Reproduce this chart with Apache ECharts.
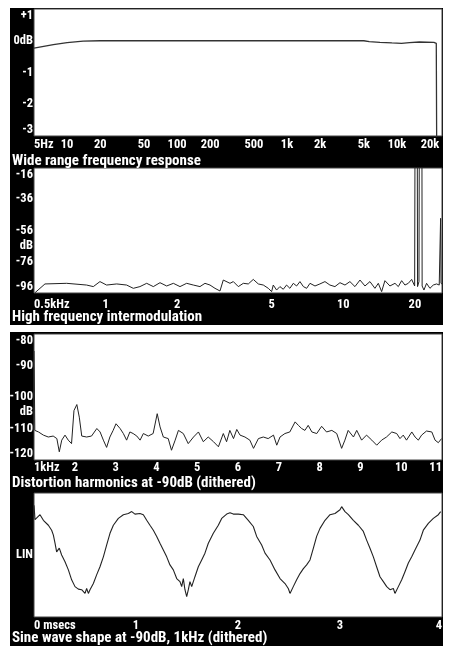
<!DOCTYPE html>
<html><head><meta charset="utf-8">
<script src="https://cdn.jsdelivr.net/npm/echarts@6/dist/echarts.min.js"></script>
<style>html,body{margin:0;padding:0;background:#fff}#c{width:452px;height:646px}</style>
</head><body><div id="c"></div>
<script>
const FONT = "'Roboto','Open Sans',sans-serif";
const WEIGHT = 'bold condensed';

// ---- Panel 1: Wide range frequency response (Hz, dB)
const p1Ticks = [5, 10, 20, 50, 100, 200, 500, 1000, 2000, 5000, 10000, 20000];
const p1TickLabels = ['5Hz', '10', '20', '50', '100', '200', '500', '1k', '2k', '5k', '10k', '20k'];
const p1Response = [[5,-0.23],[7.5,-0.12],[10,-0.06],[14,-0.01],[20,0],[100,0],[1000,0],[5000,0],[5600,-0.03],[7000,-0.05],[9000,-0.07],[11000,-0.08],[13000,-0.06],[16000,-0.04],[21700,-0.05],[22800,-0.08],[23000,-3.5]];

// ---- Panel 2: High frequency intermodulation (kHz, dB)
const p2Ticks = [0.5, 1, 2, 5, 10, 20];
const p2TickLabels = ['0.5kHz', '1', '2', '5', '10', '20'];
const p2YTicks = [-96, -76, -56, -36, -16];
const p2Spectrum = [[0.505,-95.8],[0.556,-90.2],[0.686,-89.8],[0.832,-90.9],[0.888,-91.9],[0.947,-88.7],[1.010,-90.9],[1.114,-90.2],[1.226,-90.9],[1.308,-93.0],[1.395,-91.9],[1.489,-89.8],[1.588,-91.9],[1.694,-89.4],[1.807,-91.5],[1.928,-89.8],[2.056,-91.9],[2.193,-89.8],[2.339,-90.9],[2.495,-91.9],[2.619,-89.8],[2.749,-90.9],[2.885,-93.0],[3.028,-94.7],[3.127,-87.7],[3.337,-89.8],[3.446,-88.7],[3.617,-91.9],[3.796,-89.8],[3.984,-90.2],[4.181,-87.3],[4.389,-90.2],[4.607,-90.9],[4.835,-93.0],[4.993,-95.1],[5.074,-90.9],[5.24,-94.1],[5.41,-91.9],[5.59,-93.6],[5.77,-90.9],[5.96,-93.0],[6.16,-89.8],[6.36,-91.5],[6.57,-88.7],[6.79,-91.9],[7.01,-93.0],[7.24,-89.8],[7.60,-91.5],[7.97,-90.2],[8.37,-88.7],[8.78,-90.9],[9.22,-91.9],[9.68,-89.4],[10.16,-90.9],[10.66,-88.7],[11.19,-91.9],[11.75,-87.7],[12.33,-91.5],[12.94,-88.7],[13.58,-93.0],[14.03,-89.8],[14.49,-95.1],[14.96,-88.1],[15.70,-91.5],[16.49,-89.8],[17.03,-91.9],[17.59,-88.1],[18.16,-90.9],[18.76,-89.8],[19.38,-87.3],[19.95,-91.5],[20.01,-10],[20.47,-10],[20.52,-91.9],[20.80,-88.7],[20.86,-10],[21.41,-10],[21.45,-91.5],[21.83,-94.1],[22.39,-89.8],[23.13,-93.0],[23.89,-90.9],[24.67,-90.2],[25.31,-90.9],[25.55,-90.5],[25.65,-48.2],[25.75,-89.8],[25.98,-90.2]];

// ---- Panel 3: Distortion harmonics at -90dB (kHz, dB)
const p3Spectrum = [[1.0,-85.4],[1.02,-110.6],[1.11,-111.1],[1.23,-112.1],[1.35,-112.7],[1.47,-112.4],[1.56,-113.2],[1.62,-117.4],[1.68,-113.7],[1.76,-112.1],[1.84,-113.7],[1.92,-114.8],[1.98,-104.3],[2.05,-102.4],[2.11,-106.4],[2.17,-112.4],[2.29,-112.7],[2.41,-112.4],[2.54,-110.0],[2.62,-111.1],[2.70,-113.7],[2.78,-116.0],[2.86,-112.7],[2.94,-110.6],[3.01,-108.5],[3.11,-110.0],[3.19,-111.6],[3.27,-113.7],[3.35,-111.1],[3.43,-111.6],[3.52,-112.4],[3.60,-113.7],[3.68,-111.6],[3.80,-112.4],[3.92,-111.6],[4.02,-105.3],[4.09,-109.5],[4.17,-112.7],[4.29,-113.2],[4.37,-116.9],[4.46,-113.7],[4.54,-110.6],[4.66,-111.6],[4.78,-114.8],[4.91,-112.7],[5.03,-111.1],[5.15,-114.2],[5.27,-112.7],[5.40,-114.2],[5.52,-115.8],[5.64,-111.6],[5.72,-114.2],[5.80,-110.6],[5.89,-113.2],[5.97,-110.3],[6.05,-112.1],[6.17,-112.7],[6.29,-113.7],[6.38,-116.3],[6.50,-113.2],[6.62,-112.7],[6.74,-113.2],[6.87,-112.1],[6.95,-115.3],[7.03,-112.7],[7.15,-111.6],[7.27,-111.1],[7.40,-107.9],[7.48,-109.0],[7.56,-110.0],[7.64,-110.6],[7.72,-109.0],[7.81,-111.1],[7.93,-111.6],[8.05,-109.3],[8.17,-111.1],[8.30,-110.6],[8.42,-111.6],[8.54,-116.3],[8.62,-113.7],[8.70,-110.6],[8.83,-112.7],[8.91,-110.6],[9.03,-113.7],[9.15,-112.1],[9.28,-113.7],[9.40,-115.3],[9.52,-113.7],[9.64,-112.7],[9.77,-111.1],[9.89,-111.6],[9.97,-113.2],[10.05,-112.1],[10.13,-113.7],[10.26,-111.1],[10.34,-112.7],[10.42,-113.7],[10.50,-112.1],[10.62,-110.8],[10.75,-111.1],[10.83,-113.7],[10.91,-114.5],[10.99,-113.2]];

// ---- Panel 4: Sine wave shape (msecs, linear amplitude)
const p4Wave = [[0,0.80],[0.01,0.57],[0.026,0.59],[0.059,0.65],[0.092,0.56],[0.141,0.48],[0.173,0.40],[0.190,0.32],[0.206,0.19],[0.222,0.05],[0.248,0.11],[0.271,0.00],[0.304,-0.11],[0.337,-0.24],[0.369,-0.40],[0.402,-0.51],[0.435,-0.55],[0.467,-0.56],[0.484,-0.54],[0.500,-0.62],[0.516,-0.54],[0.533,-0.62],[0.549,-0.56],[0.582,-0.46],[0.614,-0.32],[0.647,-0.19],[0.680,-0.03],[0.712,0.16],[0.745,0.35],[0.778,0.48],[0.827,0.59],[0.876,0.65],[0.925,0.67],[0.958,0.70],[0.990,0.66],[1.039,0.67],[1.072,0.65],[1.105,0.56],[1.137,0.48],[1.170,0.40],[1.203,0.30],[1.235,0.19],[1.268,0.08],[1.301,-0.03],[1.333,-0.16],[1.366,-0.24],[1.399,-0.38],[1.431,-0.43],[1.448,-0.51],[1.464,-0.38],[1.480,-0.56],[1.497,-0.67],[1.513,-0.56],[1.529,-0.43],[1.546,-0.51],[1.578,-0.35],[1.611,-0.19],[1.644,-0.08],[1.676,0.03],[1.709,0.19],[1.758,0.35],[1.807,0.48],[1.840,0.59],[1.889,0.66],[1.922,0.68],[1.954,0.66],[2.003,0.66],[2.052,0.65],[2.101,0.56],[2.150,0.46],[2.183,0.30],[2.232,0.16],[2.265,0.03],[2.314,-0.08],[2.363,-0.24],[2.412,-0.38],[2.461,-0.46],[2.493,-0.54],[2.510,-0.62],[2.542,-0.51],[2.575,-0.40],[2.608,-0.30],[2.641,-0.22],[2.673,-0.16],[2.706,-0.08],[2.739,0.11],[2.771,0.30],[2.804,0.43],[2.853,0.56],[2.902,0.65],[2.951,0.67],[3.000,0.73],[3.016,0.78],[3.049,0.70],[3.082,0.65],[3.131,0.56],[3.180,0.48],[3.229,0.38],[3.261,0.24],[3.294,0.11],[3.327,-0.03],[3.359,-0.19],[3.392,-0.35],[3.425,-0.43],[3.458,-0.51],[3.490,-0.56],[3.523,-0.54],[3.539,-0.62],[3.572,-0.51],[3.605,-0.40],[3.637,-0.27],[3.670,-0.13],[3.703,-0.03],[3.735,0.08],[3.784,0.24],[3.817,0.40],[3.866,0.51],[3.915,0.59],[3.964,0.65],[3.987,0.70]];

const titles = ['Wide range frequency response', 'High frequency intermodulation', 'Distortion harmonics at -90dB (dithered)', 'Sine wave shape at -90dB, 1kHz (dithered)'];

function lookup(ticks, labels, v) {
  for (let i = 0; i < ticks.length; i++) if (Math.abs(ticks[i] - v) <= Math.abs(ticks[i]) * 1e-6) return labels[i];
  return '';
}
const lab = {color: '#fff', fontFamily: FONT, fontWeight: WEIGHT, fontSize: 12.5};
const hidden = {axisLine: {show: false}, axisTick: {show: false}, splitLine: {show: false}};
const grids = [
  {left: 34, top: 9, width: 408, height: 127},
  {left: 34, top: 168, width: 408, height: 125},
  {left: 34, top: 334, width: 408, height: 126},
  {left: 34, top: 493, width: 408, height: 124}
].map(g => Object.assign(g, {show: true, backgroundColor: '#fff', borderColor: '#444', borderWidth: 1}));
const dbFont = WEIGHT + ' 12.5px ' + FONT;

const option = {
  animation: false,
  backgroundColor: '#fff',
  graphic: [
    {type: 'rect', z: -10, shape: {x: 10, y: 8, width: 433, height: 317}, style: {fill: '#000'}},
    {type: 'rect', z: -10, shape: {x: 10, y: 332, width: 433, height: 314}, style: {fill: '#000'}},
    {type: 'text', z: 10, x: 33, y: 246, style: {text: 'dB', fill: '#fff', font: dbFont, align: 'right', verticalAlign: 'middle'}},
    {type: 'text', z: 10, x: 33, y: 412, style: {text: 'dB', fill: '#fff', font: dbFont, align: 'right', verticalAlign: 'middle'}}
  ],
  title: [
    {top: 154, text: titles[0]}, {top: 310, text: titles[1]}, {top: 476, text: titles[2]}, {top: 631, text: titles[3]}
  ].map(t => Object.assign(t, {left: 12, padding: 0, textStyle: {color: '#fff', fontFamily: FONT, fontWeight: WEIGHT, fontSize: 15}})),
  grid: grids,
  xAxis: [
    Object.assign({gridIndex: 0, type: 'log', logBase: 10, min: 5, max: 25700,
      axisLabel: Object.assign({}, lab, {margin: 2, customValues: p1Ticks, alignMinLabel: 'left',
        formatter: v => lookup(p1Ticks, p1TickLabels, v)})}, hidden),
    Object.assign({gridIndex: 1, type: 'log', logBase: 10, min: 0.5, max: 26,
      axisLabel: Object.assign({}, lab, {margin: 5, customValues: p2Ticks, alignMinLabel: 'left',
        formatter: v => lookup(p2Ticks, p2TickLabels, v)})}, hidden),
    Object.assign({gridIndex: 2, type: 'value', min: 1, max: 11, interval: 1,
      axisLabel: Object.assign({}, lab, {margin: 1.5, alignMinLabel: 'left', alignMaxLabel: 'right',
        formatter: v => v === 1 ? '1kHz' : String(v)})}, hidden),
    Object.assign({gridIndex: 3, type: 'value', min: 0, max: 4, interval: 1,
      axisLabel: Object.assign({}, lab, {margin: 2, alignMinLabel: 'left', alignMaxLabel: 'right',
        formatter: v => v === 0 ? '0 msecs' : String(v)})}, hidden)
  ],
  yAxis: [
    Object.assign({gridIndex: 0, type: 'value', min: -3, max: 1, interval: 1,
      axisLabel: Object.assign({}, lab, {margin: 1, verticalAlignMinLabel: 'bottom', verticalAlignMaxLabel: 'top',
        formatter: v => v === 1 ? '+1' : (v === 0 ? '0dB' : String(v))})}, hidden),
    Object.assign({gridIndex: 1, type: 'value', min: -96, max: -16,
      axisLabel: Object.assign({}, lab, {margin: 1, customValues: p2YTicks, verticalAlignMinLabel: 'bottom', verticalAlignMaxLabel: 'top'})}, hidden),
    Object.assign({gridIndex: 2, type: 'value', min: -120, max: -80, interval: 10,
      axisLabel: Object.assign({}, lab, {margin: 1, verticalAlignMinLabel: 'bottom', verticalAlignMaxLabel: 'top'})}, hidden),
    Object.assign({gridIndex: 3, type: 'value', min: -1, max: 1,
      axisLabel: Object.assign({}, lab, {margin: 1, customValues: [0], formatter: () => 'LIN'})}, hidden)
  ],
  series: [
    {type: 'line', xAxisIndex: 0, yAxisIndex: 0, data: p1Response, symbol: 'none', clip: true, lineStyle: {color: '#333', width: 1.3}},
    {type: 'line', xAxisIndex: 1, yAxisIndex: 1, data: p2Spectrum, symbol: 'none', clip: true, lineStyle: {color: '#222', width: 1}},
    {type: 'line', xAxisIndex: 2, yAxisIndex: 2, data: p3Spectrum, symbol: 'none', clip: true, lineStyle: {color: '#222', width: 1}},
    {type: 'line', xAxisIndex: 3, yAxisIndex: 3, data: p4Wave, symbol: 'none', clip: true, lineStyle: {color: '#222', width: 1.1}}
  ]
};
const chart = echarts.init(document.getElementById('c'), null, {renderer: 'canvas'});
chart.setOption(option);
</script>
</body></html>
